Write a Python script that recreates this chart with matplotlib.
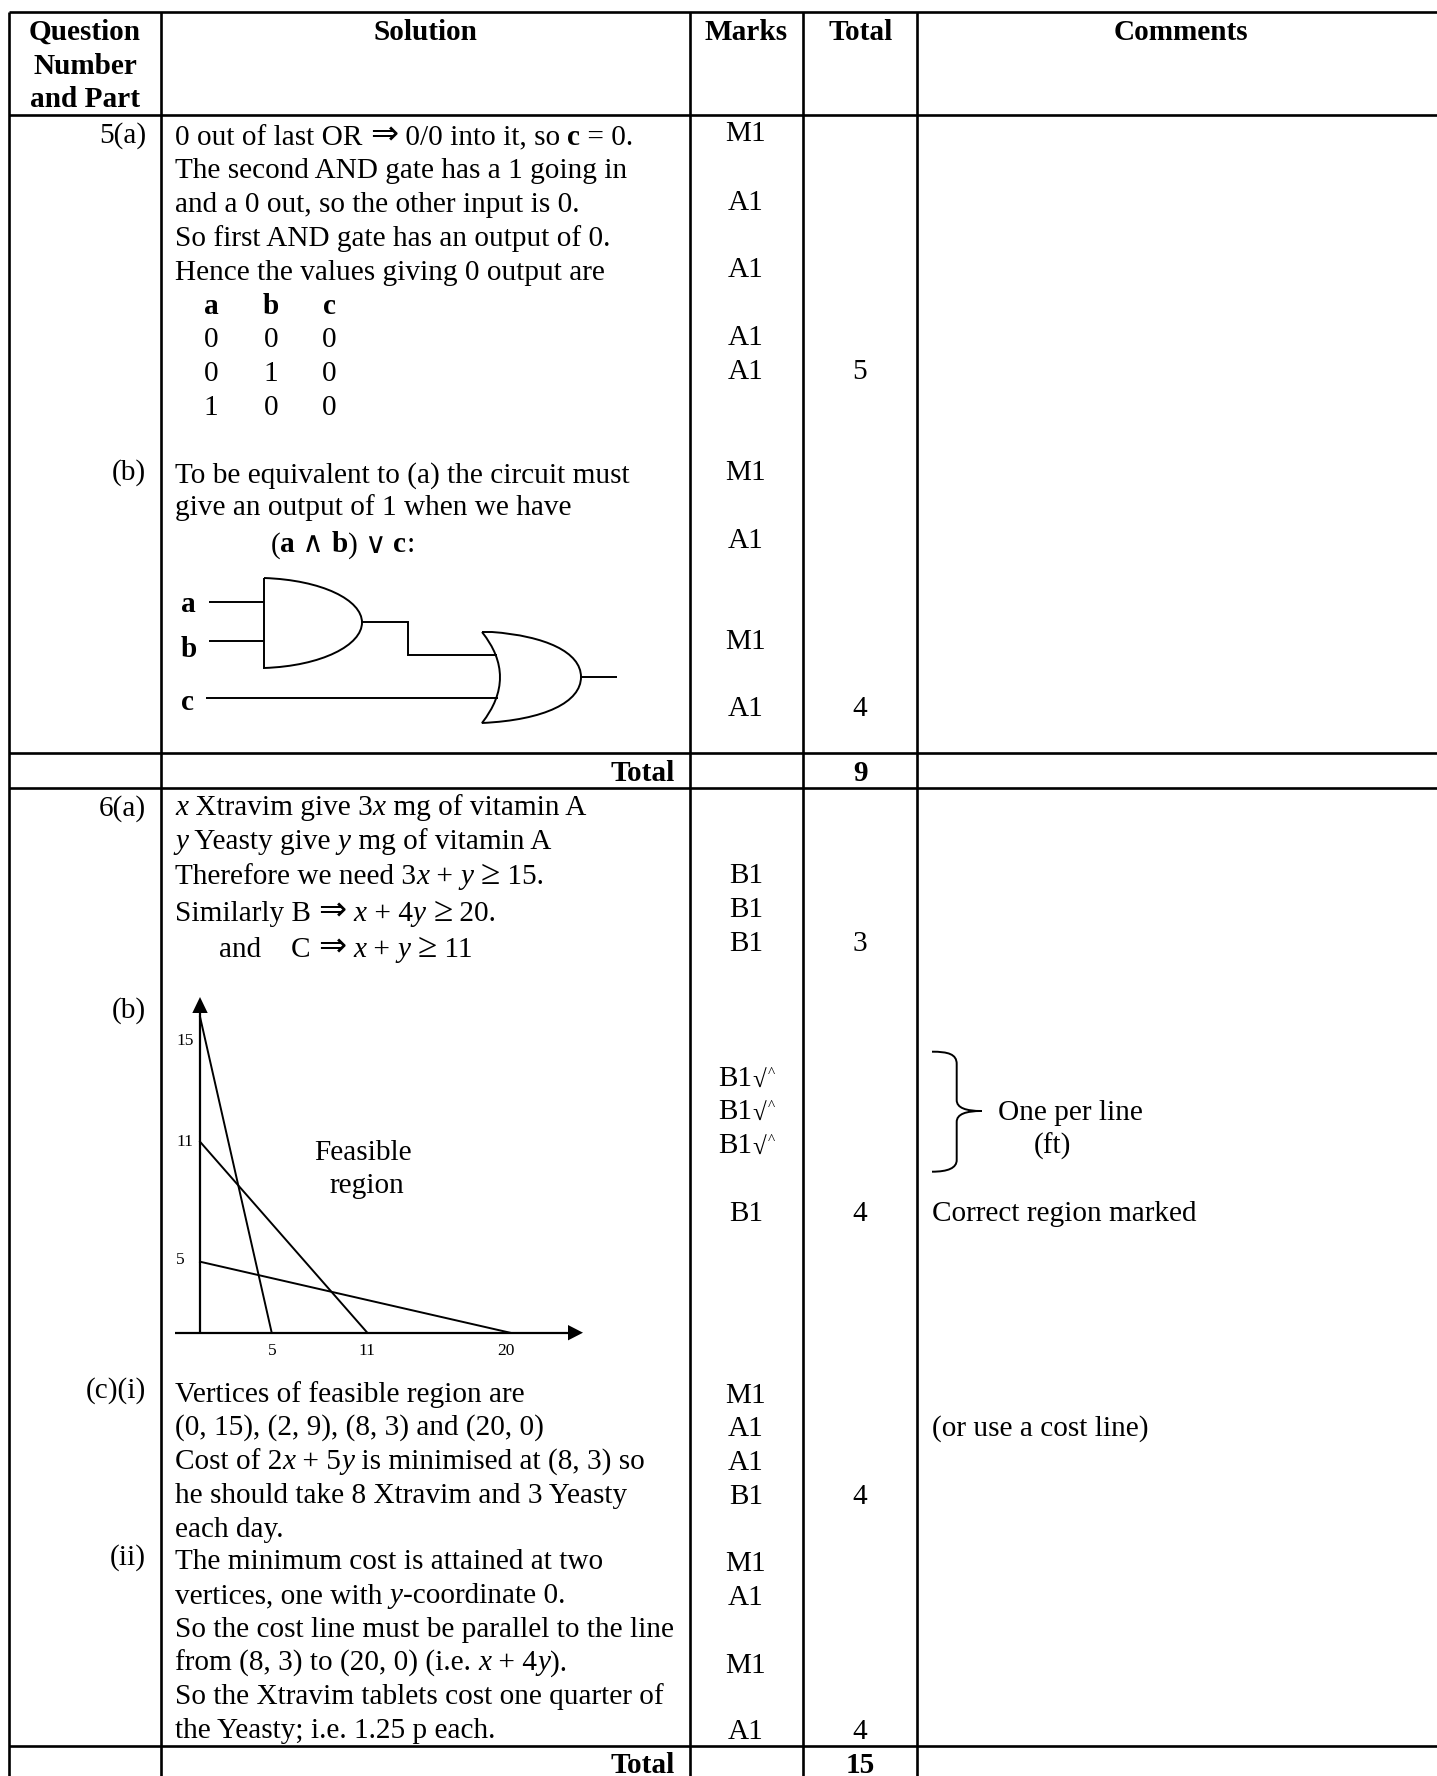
import re
import numpy as np
import matplotlib
matplotlib.use("Agg")
import matplotlib.pyplot as plt
from matplotlib.path import Path
from matplotlib.patches import PathPatch, Polygon

# ---------- content ----------
HEADER_Q = ["Question", "Number", "and Part"]
HEADER_COLS = ["Solution", "Marks", "Total", "Comments"]
Q_LABELS = ["5(a)", "(b)", "6(a)", "(b)", "(c)(i)", "(ii)"]
SOLUTION = [
    "0 out of last OR ⇒ 0/0 into it, so **c** = 0.",
    "The second AND gate has a 1 going in",
    "and a 0 out, so the other input is 0.",
    "So first AND gate has an output of 0.",
    "Hence the values giving 0 output are",
    "To be equivalent to (a) the circuit must",
    "give an output of 1 when we have",
    "(**a** ∧ **b**) ∨ **c**:",
    "*x* Xtravim give 3*x* mg of vitamin A",
    "*y* Yeasty give *y* mg of vitamin A",
    "Therefore we need 3*x* + *y* ≥ 15.",
    "Similarly B ⇒ *x* + 4*y* ≥ 20.",
    "and",
    "C ⇒ *x* + *y* ≥ 11",
    "Vertices of feasible region are",
    "(0, 15), (2, 9), (8, 3) and (20, 0)",
    "Cost of 2*x* + 5*y* is minimised at (8, 3) so",
    "he should take 8 Xtravim and 3 Yeasty",
    "each day.",
    "The minimum cost is attained at two",
    "vertices, one with *y*-coordinate 0.",
    "So the cost line must be parallel to the line",
    "from (8, 3) to (20, 0) (i.e. *x* + 4*y*).",
    "So the Xtravim tablets cost one quarter of",
    "the Yeasty; i.e. 1.25 p each.",
]
TT_HEAD = ["a", "b", "c"]
TT_ROWS = [["0", "0", "0"], ["0", "1", "0"], ["1", "0", "0"]]
MARKS = ["M1", "A1", "A1", "A1", "A1", "M1", "A1", "M1", "A1",
         "B1", "B1", "B1", "B1", "M1", "A1", "A1", "B1", "M1", "A1", "M1", "A1"]
FT_MARKS = ["B1", "B1", "B1"]
SUBTOTALS = ["5", "4", "3", "4", "4", "4"]
TOTALS = ["9", "15"]
COMMENTS = ["One per line", "(ft)", "Correct region marked", "(or use a cost line)"]
GATE_LABELS = ["a", "b", "c"]
GRAPH_X_TICKS = [5, 11, 20]
GRAPH_Y_TICKS = [15, 11, 5]
LINE_A = ([0, 5], [15, 0])
LINE_B = ([0, 11], [11, 0])
LINE_C = ([0, 20], [5, 0])
REGION = ["Feasible", "region"]

# ---------- layout (full-size pixels) ----------
W, H = 1437, 1776
FS = 21.1
LW = 1.9
FAM = ["Liberation Serif", "DejaVu Sans"]
VLINES = [9, 161, 690, 803, 917]
HLINES = [12, 115, 753, 788, 1746]
def base(c):
    return c * 1.1325 + 10
Q_Y = [117, 415, 711, 890, 1225, 1373]
SOL_Y = [119, 148, 178, 208, 238, 417, 446, 479, 711, 741, 772, 804, 836, 836,
         1229, 1258, 1288, 1318, 1348, 1377, 1407, 1437, 1466, 1496, 1526]
SOL_X = {7: 270.7, 12: 218.6, 13: 291}
TT_X = [211, 271, 329]
TT_Y = [268, 298, 328, 358]
MARK_Y = [116, 177, 236, 296, 326, 415, 475, 564, 623,
          771, 801, 831, 1069, 1230, 1259, 1289, 1319, 1378, 1408, 1468, 1527]
FT_Y = [950, 979, 1009]
SUB_Y = [326, 623, 831, 1069, 1319, 1527]
TOT_Y = [681, 1557]
COM_POS = [(998, 980), (1034, 1010), (932, 1069), (932, 1259)]
BIG = {"⇒": 1.15, "≥": 1.2}

fig = plt.figure(figsize=(W / 100, H / 100), dpi=100, facecolor="white")
ax = fig.add_axes([0, 0, 1, 1])
ax.set_xlim(0, W)
ax.set_ylim(H, 0)
ax.axis("off")
rend = fig.canvas.get_renderer()

def T(x, y, s, weight="normal", style="normal", ha="left", size=FS):
    return ax.text(x, y, s, family=FAM, fontsize=size, fontweight=weight, fontstyle=style,
                   ha=ha, va="baseline", color="black")

def adv(s, **kw):
    a = T(0, 0, s + "|", **kw); w1 = a.get_window_extent(rend).width; a.remove()
    b = T(0, 0, "|", **kw); w2 = b.get_window_extent(rend).width; b.remove()
    return w1 - w2

def rich(x, y, s):
    for part in re.split(r"(\*\*.+?\*\*|\*.+?\*|⇒|≥)", s):
        if not part:
            continue
        kw = {}
        if part.startswith("**"):
            part = part[2:-2]; kw["weight"] = "bold"
        elif part.startswith("*"):
            part = part[1:-1]; kw["style"] = "italic"
        elif part in BIG:
            kw["size"] = FS * BIG[part]
        T(x, y, part, **kw)
        x += adv(part, **kw)

# grid
for x in VLINES:
    ax.plot([x, x], [HLINES[0], H], color="black", lw=LW, solid_capstyle="butt")
for y in HLINES:
    ax.plot([VLINES[0], W], [y, y], color="black", lw=LW, solid_capstyle="butt")

# header
for s, y in zip(HEADER_Q, [40, 74, 107]):
    T(85, y, s, weight="bold", ha="center")
for s, x in zip(HEADER_COLS, [425, 746.5, 860.7, 1181]):
    T(x, 40, s, weight="bold", ha="center")

# columns
for s, c in zip(Q_LABELS, Q_Y):
    T(146, base(c), s, ha="right")
for i, (s, c) in enumerate(zip(SOLUTION, SOL_Y)):
    rich(SOL_X.get(i, 175), base(c), s)
for x, s in zip(TT_X, TT_HEAD):
    T(x, base(TT_Y[0]), s, weight="bold", ha="center")
for row, c in zip(TT_ROWS, TT_Y[1:]):
    for x, s in zip(TT_X, row):
        T(x, base(c), s, ha="center")
for s, c in zip(MARKS, MARK_Y):
    T(746, base(c), s, ha="center")
for s, c in zip(FT_MARKS, FT_Y):
    T(718, base(c), s)
    T(752, base(c) + 1, "√", size=18)
    T(768, base(c) - 9, "^", size=11)
for s, c in zip(SUBTOTALS, SUB_Y):
    T(860, base(c), s, ha="center")
for s, c in zip(TOTALS, TOT_Y):
    T(860, base(c), s, weight="bold", ha="center")
    T(675, base(c), "Total", weight="bold", ha="right")
for s, (x, c) in zip(COMMENTS, COM_POS):
    T(x, base(c), s)

# logic circuit
lk = dict(color="black", lw=1.4, solid_capstyle="butt", solid_joinstyle="miter")
for s, x, y in zip(GATE_LABELS, [181, 181, 181], [612, 657, 710]):
    T(x, y, s, weight="bold", ha="left")
ax.plot([209, 264], [602, 602], **lk)
ax.plot([209, 264], [641, 641], **lk)
ax.plot([206, 498], [698, 698], **lk)
ax.plot([362, 408, 408, 497], [622, 622, 655, 655], **lk)
ax.plot([581, 617], [677, 677], **lk)
C4, C3, L, M = Path.CURVE4, Path.CURVE3, Path.LINETO, Path.MOVETO
ax.add_patch(PathPatch(Path(
    [(264, 578), (322, 580), (362, 600), (362, 622.5), (362, 645), (322, 666), (264, 668), (264, 578)],
    [M, C4, C4, C4, C4, C4, C4, L]), fc="none", ec="black", lw=1.4))
ax.add_patch(PathPatch(Path(
    [(482, 632), (492, 632), (545, 636), (581, 652), (581, 677), (581, 702), (545, 720), (482, 723),
     (518, 677), (482, 632)],
    [M, L, C4, C4, C4, C4, C4, L, C3, C3]), fc="none", ec="black", lw=1.4))

# graph: an axes with the hand-drawn, non-uniform scale of the original sketch
gx = fig.add_axes([200 / W, 1 - 1332.7 / H, 310 / W, 316 / H])
gx.patch.set_alpha(0)
x_v, x_p = [0, 5, 11, 20], [0, 71.7, 167.3, 310]
y_v, y_p = [0, 5, 11, 15], [0, 71, 191, 316]
gx.set_xscale("function", functions=(lambda v: np.interp(v, x_v, x_p), lambda p: np.interp(p, x_p, x_v)))
gx.set_yscale("function", functions=(lambda v: np.interp(v, y_v, y_p), lambda p: np.interp(p, y_p, y_v)))
gx.set_xlim(0, 20)
gx.set_ylim(0, 15)
gx.axis("off")
for lx, ly in (LINE_A, LINE_B, LINE_C):
    gx.plot(lx, ly, color="black", lw=1.4, clip_on=False)
ax.plot([200, 200], [1332.7, 1012], color="black", lw=1.6, solid_capstyle="butt")
ax.plot([175, 569], [1332.7, 1332.7], color="black", lw=1.6, solid_capstyle="butt")
ax.add_patch(Polygon([(200, 997), (192.3, 1013), (207.7, 1013)], fc="black", ec="none"))
ax.add_patch(Polygon([(583, 1332.7), (568, 1325), (568, 1340.4)], fc="black", ec="none"))
for v, x in zip(GRAPH_X_TICKS, [272.7, 367, 506]):
    T(x, 1355, str(v), ha="center", size=12.5)
for v, y in zip(GRAPH_Y_TICKS, [1045, 1146, 1264]):
    T(176, y, str(v), ha="left", size=12.5)
T(363, 1160, REGION[0], ha="center")
T(367, 1193, REGION[1], ha="center")

# brace
ax.add_patch(PathPatch(Path(
    [(932, 1051.7), (948, 1051.7), (956.7, 1054), (956.7, 1064), (956.7, 1100),
     (956.7, 1108), (966, 1111), (981.7, 1111), (966, 1111), (956.7, 1114), (956.7, 1122),
     (956.7, 1160), (956.7, 1168), (948, 1171.7), (932, 1171.7)],
    [M, C4, C4, C4, L, C4, C4, C4, C4, C4, C4, L, C4, C4, C4]), fc="none", ec="black", lw=1.4))

fig.savefig("out.png", dpi=100, facecolor="white")
